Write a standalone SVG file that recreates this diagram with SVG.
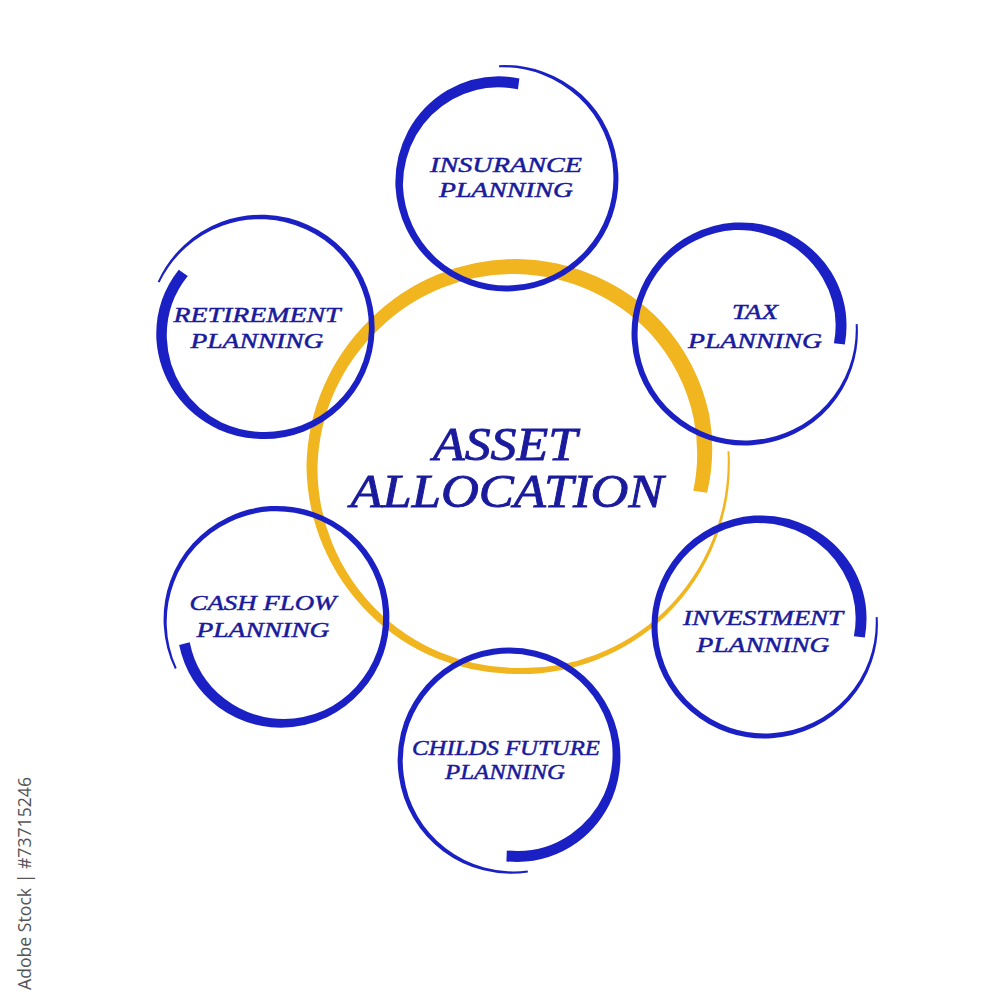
<svg xmlns="http://www.w3.org/2000/svg" width="989" height="1000" viewBox="0 0 989 1000">
<style>
.ring{fill:#1a20c4}
.gold{fill:#f0b51f}
.lbl{font-family:"Liberation Serif","DejaVu Serif",serif;font-style:italic;font-size:22px;fill:#1a1a9c;stroke:#1a1a9c;stroke-width:0.5;text-anchor:middle}
.big{font-size:46px;stroke-width:0.9}
.wm{font-family:"Open Sans","Liberation Sans",sans-serif;font-size:18px;fill:#555}
</style>
<defs>
<path id="brush" d="M115,0 A114.5,114.5 0 0 1 80.61,80.61 A113.3,113.3 0 0 1 0,112.5 A112,112 0 0 1 -79.02,79.02 A111.6,111.6 0 0 1 -111.5,0 A111.4,111.4 0 0 1 -78.67,-78.67 A111,111 0 0 1 0,-110.75 A110,110 0 0 1 54.75,-94.83 A108.4,108.4 0 0 1 92.88,-53.63 A105,105 0 0 1 100.61,19.56 L89.82,17.46 A95,95 0 0 0 83.79,-48.38 A98.6,98.6 0 0 0 50.25,-87.04 A102,102 0 0 0 0,-103.25 A104,104 0 0 0 -74.07,-74.07 A105.1,105.1 0 0 0 -105.5,0 A105.9,105.9 0 0 0 -75.13,75.13 A106.9,106.9 0 0 0 0,107.5 A108.7,108.7 0 0 0 77.78,77.78 A111.5,111.5 0 0 0 113,0 Z"/>
</defs>
<rect width="989" height="1000" fill="#ffffff"/>

<g id="asset-allocation">
<path class="gold" transform="translate(517,466)" d="M212.48,-14.86 A212,212 0 0 1 149.2,149.2 A210,210 0 0 1 0,208 A208.5,208.5 0 0 1 -147.79,147.79 A210,210 0 0 1 -210.5,0 A209,209 0 0 1 -146.73,-146.73 A207,207 0 0 1 0,-207 A205.5,205.5 0 0 1 144.25,-144.25 A201,201 0 0 1 192.22,-51.51 A195,195 0 0 1 190.13,26.72 L176.27,24.77 A180,180 0 0 0 176.77,-47.36 A186,186 0 0 0 132.94,-132.94 A190,190 0 0 0 0,-192 A193,193 0 0 0 -137.53,-137.53 A197,197 0 0 0 -199.5,0 A200,200 0 0 0 -142.13,142.13 A201.5,201.5 0 0 0 0,202 A205,205 0 0 0 146.37,146.37 A209,209 0 0 0 210.49,-14.72 Z"/>
<text class="lbl big" x="505" y="460" textLength="144" lengthAdjust="spacingAndGlyphs">ASSET</text>
<text class="lbl big" x="507" y="507" textLength="313" lengthAdjust="spacingAndGlyphs">ALLOCATION</text>
</g>

<g id="insurance-planning">
<use href="#brush" class="ring" transform="translate(506,180) rotate(266.5)"/>
<text class="lbl" x="506" y="172" textLength="152" lengthAdjust="spacingAndGlyphs">INSURANCE</text>
<text class="lbl" x="506" y="197" textLength="134" lengthAdjust="spacingAndGlyphs">PLANNING</text>
</g>

<g id="tax-planning">
<use href="#brush" class="ring" transform="translate(743,333) rotate(-4.5)"/>
<text class="lbl" x="755" y="319" textLength="46" lengthAdjust="spacingAndGlyphs">TAX</text>
<text class="lbl" x="755" y="348" textLength="134" lengthAdjust="spacingAndGlyphs">PLANNING</text>
</g>

<g id="investment-planning">
<use href="#brush" class="ring" transform="translate(763,626) rotate(-4.5)"/>
<text class="lbl" x="763" y="625" textLength="160" lengthAdjust="spacingAndGlyphs">INVESTMENT</text>
<text class="lbl" x="763" y="652" textLength="133" lengthAdjust="spacingAndGlyphs">PLANNING</text>
</g>

<g id="childs-future-planning">
<use href="#brush" class="ring" transform="translate(510,759) rotate(81)"/>
<text class="lbl" x="506" y="755" textLength="188" lengthAdjust="spacingAndGlyphs">CHILDS FUTURE</text>
<text class="lbl" x="505" y="779" textLength="120" lengthAdjust="spacingAndGlyphs">PLANNING</text>
</g>

<g id="cash-flow-planning">
<use href="#brush" class="ring" transform="translate(278,618) rotate(153.7)"/>
<text class="lbl" x="263" y="610" textLength="147" lengthAdjust="spacingAndGlyphs">CASH FLOW</text>
<text class="lbl" x="263" y="637" textLength="133" lengthAdjust="spacingAndGlyphs">PLANNING</text>
</g>

<g id="retirement-planning">
<use href="#brush" class="ring" transform="translate(263,328) rotate(203.7)"/>
<text class="lbl" x="257" y="322" textLength="167" lengthAdjust="spacingAndGlyphs">RETIREMENT</text>
<text class="lbl" x="257" y="348" textLength="133" lengthAdjust="spacingAndGlyphs">PLANNING</text>
</g>

<g id="connectors"></g>

<text class="wm" transform="translate(31,990) rotate(-90)" x="0" y="0" textLength="213" lengthAdjust="spacingAndGlyphs">Adobe Stock | #73715246</text>
</svg>
